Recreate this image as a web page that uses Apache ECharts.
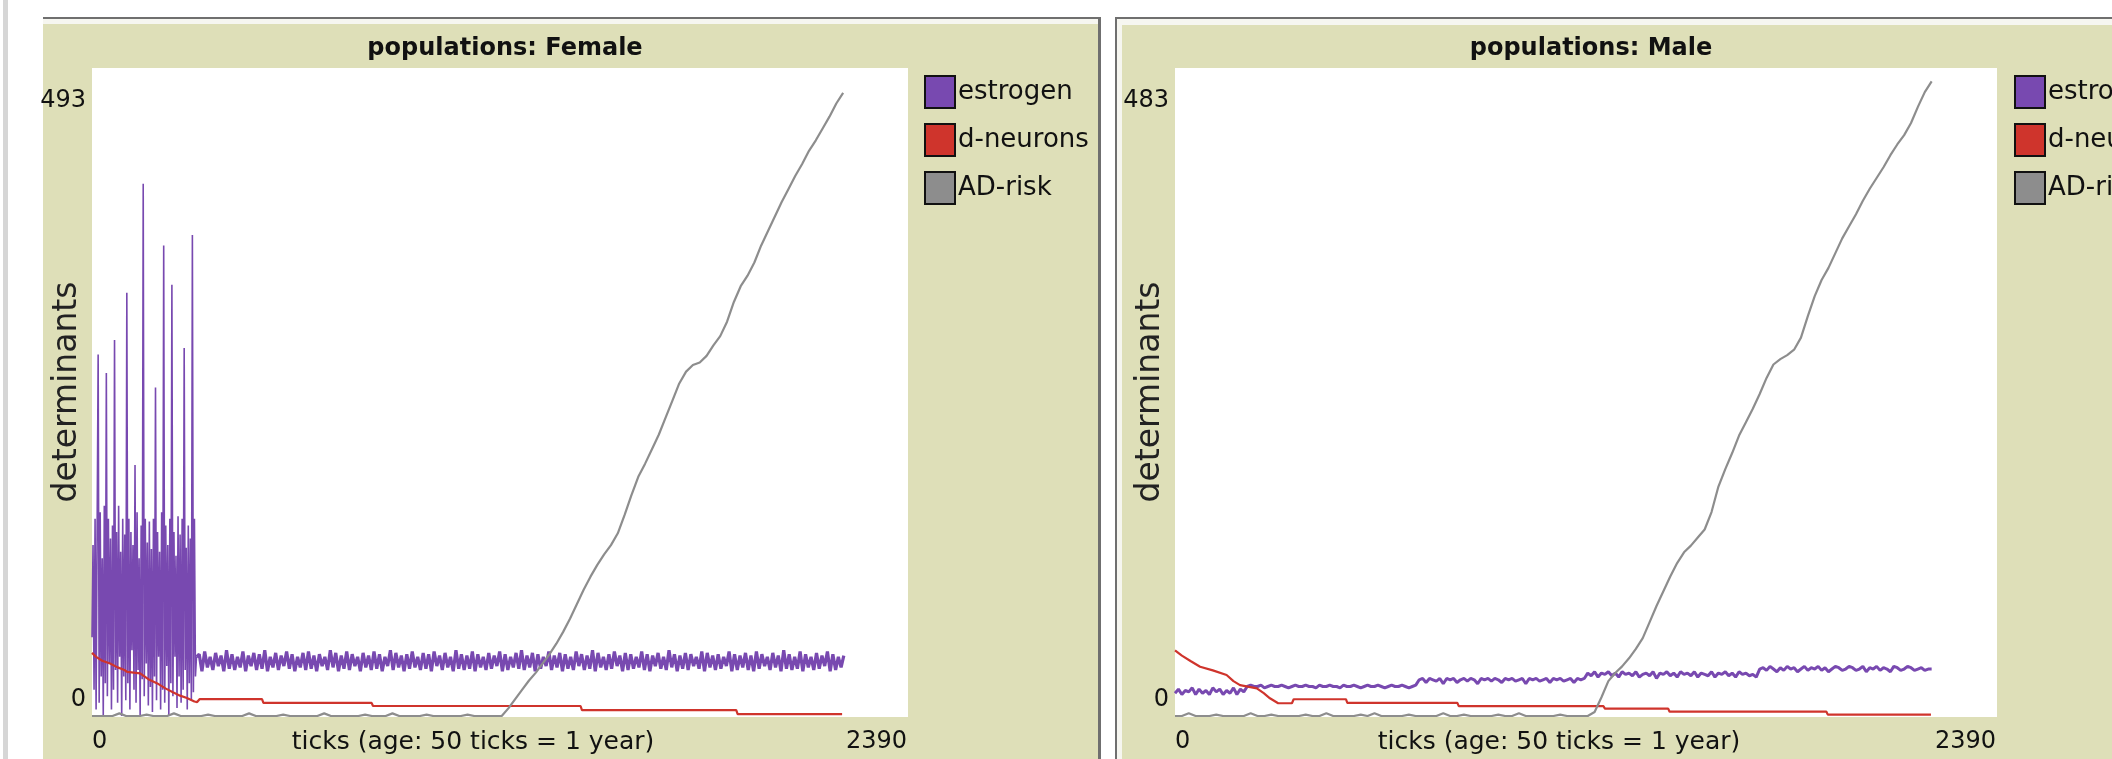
<!DOCTYPE html>
<html>
<head>
<meta charset="utf-8">
<script src="https://cdn.jsdelivr.net/npm/echarts@6/dist/echarts.min.js"></script>
<style>
html,body{margin:0;padding:0;background:#fff;}
#chart{width:2112px;height:759px;}
</style>
</head>
<body>
<div id="chart"></div>
<script>
// ---------- labels ----------
const panelTitles = ['populations: Female', 'populations: Male'];
const xAxisTitle = 'ticks (age: 50 ticks = 1 year)';
const yAxisTitle = 'determinants';
const seriesNames = ['estrogen', 'd-neurons', 'AD-risk'];
const xMax = 2390;
const yMaxFemale = 493;
const yMaxMale = 483;

// ---------- Female data ----------
// estrogen, early chaotic phase: one value every 3 ticks from tick 0
const femaleEstrogenEarlyStart = 0, femaleEstrogenEarlyStep = 3;
const femaleEstrogenEarly = [
  60,130,20,150,5,140,275,10,155,30,120,0,160,25,261,15,150,40,135,5,
  145,20,286,35,140,10,160,45,125,0,150,30,138,12,322,25,150,5,140,50,
  130,20,191,10,155,35,120,0,145,28,405,15,150,40,132,8,148,22,127,3,
  150,30,250,12,140,45,125,5,155,20,358,10,145,38,130,0,150,25,328,15,
  140,45,122,6,152,30,138,10,150,20,280,35,128,5,145,25,135,12,366,18,
  150,30,45
];
// estrogen, steady noisy band: one value every 8 ticks from tick 306
const femaleEstrogenLateStart = 306, femaleEstrogenLateStep = 8;
const femaleEstrogenLate = [
  45,47,34,49,37,45,35,48,38,46,34,50,36,47,35,45,37,49,34,46,
  38,48,35,47,36,50,34,45,37,48,35,46,38,49,36,47,34,45,37,48,
  35,49,36,46,34,47,38,45,35,50,37,48,34,46,36,49,35,47,38,45,
  34,48,37,46,35,49,36,47,34,45,38,50,35,48,37,46,34,47,36,49,
  37,45,35,48,36,47,34,49,38,46,35,48,37,45,34,50,36,47,35,46,
  36,49,34,47,37,45,35,48,36,46,38,49,34,47,35,45,37,48,36,50,
  35,46,37,48,34,47,36,45,38,49,35,46,37,48,34,47,36,45,35,49,
  38,47,35,46,36,50,34,48,37,45,35,47,36,49,38,46,34,48,35,47,
  36,45,37,49,35,47,34,46,38,48,36,45,35,50,37,47,34,46,36,48,
  35,47,38,45,36,49,34,48,37,46,35,47,36,45,38,49,34,47,35,46,
  37,48,35,46,34,49,36,47,38,45,35,48,37,46,34,50,36,47,35,45,
  36,49,34,47,37,45,35,48,36,46,38,49,34,47,35,45,37,46
];
// d-neurons: [tick, value] points of the stair line
const femaleDNeurons = [
  [0,48],[12,45],[30,42],[53,40],[75,37],[95,35],[103,33.5],[141,32.5],[165,28],[190,25],
  [215,21],[237,18],[258,15.5],[278,13.7],[300,11],[308,10.6],[315,12.8],[498,12.8],[502,10],
  [819,10],[823,7.6],[1431,7.6],[1435,4.5],[1887,4.5],[1891,1.5],[2197,1.5]
];
// AD-risk: one value every 20 ticks from tick 0
const femaleAdRiskStep = 20;
const femaleAdRisk = [
  0,0,0,0,2,0,0,0,1,0,0,0,2,0,0,0,0,1,0,0,
  0,0,0,2,0,0,0,0,1,0,0,0,0,0,2,0,0,0,0,0,
  1,0,0,0,2,0,0,0,0,1,0,0,0,0,0,1,0,0,0,0,
  0,6,13,20,27,33,40,47,55,64,74,85,96,106,115,123,130,139,153,168,
  182,192,203,214,227,240,253,262,267,269,274,282,289,300,315,327,335,345,358,369,
  380,391,401,411,420,430,438,447,456,466,474
];

// ---------- Male data ----------
const maleEstrogenStep = 10;
const maleEstrogen = [
  17,20,16,19,18,21,16,20,17,19,16,21,18,20,16,19,17,21,16,20,18,
  22,23,22,22,23,21,22,23,22,22,23,22,21,22,23,22,22,23,22,22,21,23,22,22,23,22,22,21,23,22,
  22,23,22,21,22,23,22,22,23,22,21,22,23,22,22,23,22,21,22,23,
  27,28,25,28,27,26,28,24,28,27,28,25,27,28,26,28,27,24,28,27,28,26,28,27,25,28,27,28,26,27,
  28,24,28,27,28,26,27,28,25,28,27,28,26,27,28,25,28,27,28,
  32,30,33,29,32,31,33,30,32,29,33,31,32,30,33,29,31,32,30,33,28,32,31,33,30,
  32,29,33,31,32,30,33,29,32,31,30,33,29,32,31,33,30,32,29,33,31,32,30,31,29,
  35,36,34,37,35,33,36,34,37,35,36,33,35,37,34,36,35,37,34,36,33,35,37,36,34,
  35,37,36,34,35,37,33,36,35,37,34,36,35,33,37,36,34,35,37,36,34,35,36,34,35,35
];
const maleDNeurons = [
  [0,49],[20,45],[45,41],[73,36.7],[110,34],[150,30.6],[170,26],[189,23],[238,20.6],[258,17],
  [276,13.2],[300,9.5],[340,9.5],[345,12.5],[497,12.5],[501,9.8],[821,9.8],[825,7.3],[1246,7.3],
  [1250,5.5],[1434,5.5],[1438,3.2],[1894,3.2],[1898,1],[2198,1]
];
const maleAdRiskStep = 20;
const maleAdRisk = [
  0,0,2,0,0,0,1,0,0,0,0,2,0,0,1,0,0,0,0,1,
  0,0,2,0,0,0,0,1,0,2,0,0,0,0,1,0,0,0,0,2,
  0,0,1,0,0,0,0,1,0,0,2,0,0,0,0,0,1,0,0,0,
  0,3,14,26,32,37,43,50,58,70,82,93,104,114,122,127,133,139,152,171,
  184,196,209,219,229,240,252,262,266,269,273,282,298,313,325,334,345,356,365,374,
  384,393,401,409,418,426,433,442,454,465,473
];

// ---------- styles ----------
const FONT = '"DejaVu Sans", sans-serif';
const BEIGE = '#dedfb8';
const C_PURPLE = '#7849b0';
const C_RED = '#cf342c';
const C_GRAY = '#8d8d8d';

function stepSeries(values, start, step) {
  return values.map((v, i) => [start + i * step, v]);
}

const panels = [
  {left: 92, width: 816, titleX: 500, yMax: yMaxFemale, legendLeft: 919, nameShift: 54},
  {left: 1175, width: 822, titleX: 1586, yMax: yMaxMale, legendLeft: 2009, nameShift: 54}
];

function xAxisFor(i) {
  return {
    type: 'value', gridIndex: i, min: 0, max: xMax, interval: xMax,
    name: xAxisTitle, nameLocation: 'middle', nameGap: 14, nameMoveOverlap: false,
    nameTextStyle: {fontFamily: FONT, fontSize: 25, color: '#111', verticalAlign: 'top',
      padding: [0, panels[i].nameShift, 0, 0]},
    axisLine: {show: false}, axisTick: {show: false}, splitLine: {show: false},
    axisLabel: {
      margin: 14, fontFamily: FONT, fontSize: 24, color: '#111',
      showMinLabel: true, showMaxLabel: true, hideOverlap: false,
      alignMinLabel: 'left', alignMaxLabel: 'right',
      formatter: v => v === 0 ? '{lo|0}' : '{hi|' + v + '}',
      rich: {lo: {fontFamily: FONT, fontSize: 24, color: '#111', padding: [0,0,0,0]},
             hi: {fontFamily: FONT, fontSize: 24, color: '#111', padding: [0,1,0,0]}}
    }
  };
}
function yAxisFor(i) {
  const p = panels[i];
  return {
    type: 'value', gridIndex: i, min: 0, max: p.yMax, interval: p.yMax,
    name: yAxisTitle, nameLocation: 'middle', nameGap: 8, nameMoveOverlap: false,
    nameTextStyle: {fontFamily: FONT, fontSize: 33, color: '#222'},
    axisLine: {show: false}, axisTick: {show: false}, splitLine: {show: false},
    axisLabel: {
      margin: 6, fontFamily: FONT, fontSize: 24, color: '#111',
      showMinLabel: true, showMaxLabel: true, hideOverlap: false,
      verticalAlignMinLabel: 'bottom', verticalAlignMaxLabel: 'top',
      formatter: v => v === 0 ? '{lo|0}' : '{hi|' + v + '}',
      rich: {lo: {fontFamily: FONT, fontSize: 24, color: '#111', lineHeight: 24, padding: [0,0,8,0]},
             hi: {fontFamily: FONT, fontSize: 24, color: '#111', lineHeight: 24, padding: [41,0,0,0]}}
    }
  };
}
function lineSeries(name, data, color, width, i) {
  return {
    name: name, type: 'line', xAxisIndex: i, yAxisIndex: i, data: data,
    showSymbol: false, symbol: 'none', animation: false, clip: true,
    lineStyle: {color: color, width: width, join: 'bevel'}, itemStyle: {color: color},
    emphasis: {disabled: true}
  };
}

const option = {
  backgroundColor: '#ffffff',
  animation: false,
  graphic: [
    {type: 'rect', z: -10, shape: {x: 3, y: 0, width: 5, height: 759}, style: {fill: '#d6d6d6'}},
    {type: 'rect', z: -10, shape: {x: 43, y: 17, width: 1058, height: 742}, style: {fill: '#6f6f6f'}},
    {type: 'rect', z: -9, shape: {x: 43, y: 19, width: 1055, height: 740}, style: {fill: '#f6f6f0'}},
    {type: 'rect', z: -8, shape: {x: 43, y: 24, width: 1055, height: 735}, style: {fill: BEIGE}},
    {type: 'rect', z: -7, shape: {x: 92, y: 68, width: 816, height: 649}, style: {fill: '#ffffff'}},
    {type: 'rect', z: -10, shape: {x: 1115, y: 17, width: 1000, height: 742}, style: {fill: '#6f6f6f'}},
    {type: 'rect', z: -9, shape: {x: 1117, y: 19, width: 1000, height: 740}, style: {fill: '#f6f6f0'}},
    {type: 'rect', z: -8, shape: {x: 1122, y: 25, width: 1000, height: 734}, style: {fill: BEIGE}},
    {type: 'rect', z: -7, shape: {x: 1175, y: 68, width: 822, height: 649}, style: {fill: '#ffffff'}}
  ],
  title: panels.map((p, i) => ({
    text: panelTitles[i], left: p.titleX, top: 32, textAlign: 'center',
    textStyle: {fontFamily: FONT, fontSize: 24, fontWeight: 'bold', color: '#111'}
  })),
  legend: panels.map(p => ({
    data: seriesNames, orient: 'vertical', left: p.legendLeft, top: 70,
    icon: 'rect', itemWidth: 30, itemHeight: 32, itemGap: 14,
    selectedMode: false,
    itemStyle: {borderColor: '#111', borderWidth: 2},
    textStyle: {fontFamily: FONT, fontSize: 26, color: '#111', padding: [0,0,0,-2]}
  })),
  grid: panels.map(p => ({left: p.left, top: 68, width: p.width, height: 648,
    containLabel: false, outerBoundsMode: 'none'})),
  xAxis: [xAxisFor(0), xAxisFor(1)],
  yAxis: [yAxisFor(0), yAxisFor(1)],
  series: [
    lineSeries(seriesNames[0], stepSeries(femaleEstrogenEarly, femaleEstrogenEarlyStart, femaleEstrogenEarlyStep), C_PURPLE, 1.6, 0),
    lineSeries(seriesNames[0], stepSeries(femaleEstrogenLate, femaleEstrogenLateStart, femaleEstrogenLateStep), C_PURPLE, 3.2, 0),
    lineSeries(seriesNames[1], femaleDNeurons, C_RED, 2.2, 0),
    lineSeries(seriesNames[2], stepSeries(femaleAdRisk, 0, femaleAdRiskStep), C_GRAY, 2.2, 0),
    lineSeries(seriesNames[0], stepSeries(maleEstrogen, 0, maleEstrogenStep), C_PURPLE, 3, 1),
    lineSeries(seriesNames[1], maleDNeurons, C_RED, 2.2, 1),
    lineSeries(seriesNames[2], stepSeries(maleAdRisk, 0, maleAdRiskStep), C_GRAY, 2.2, 1)
  ]
};

const chart = echarts.init(document.getElementById('chart'), null, {renderer: 'canvas'});
chart.setOption(option);
</script>
</body>
</html>
